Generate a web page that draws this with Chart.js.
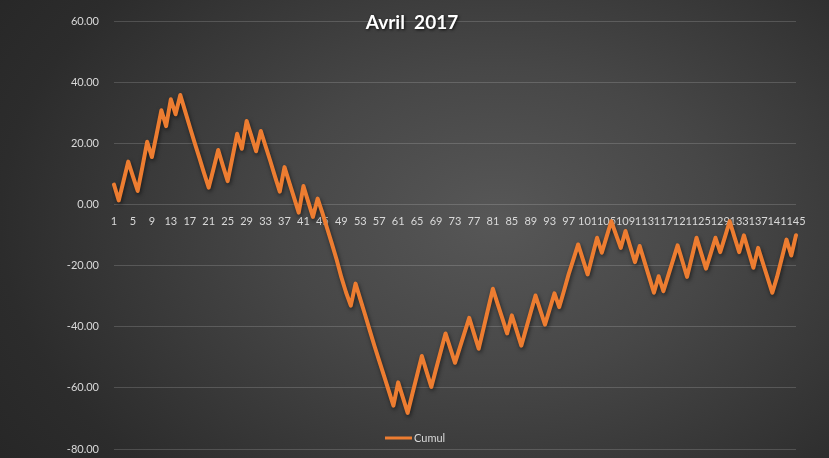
<!DOCTYPE html>
<html>
<head>
<meta charset="utf-8">
<script src="https://cdn.jsdelivr.net/npm/chart.js@4"></script>
<style>
  html, body { margin:0; padding:0; }
  body {
    width:829px; height:458px; overflow:hidden;
    background: radial-gradient(ellipse 75% 95% at 60% 48%, #575757 0%, #474747 35%, #2c2c2c 80%, #262626 100%);
  }
  #wrap { position:relative; width:829px; height:458px; }
</style>
</head>
<body>
<div id="wrap"><canvas id="c-cumul" width="829" height="458"></canvas></div>
<script>
// Chart data
const TITLE = 'Avril  2017';
const SERIES_NAME = 'Cumul';
const DAYS = Array.from({ length: 145 }, (_, i) => String(i + 1));
const Y_TICKS = [-80, -60, -40, -20, 0, 20, 40, 60];
const CUMUL = [
   6.5,   1.3,   7.6,  14.0,   9.2,   4.4,  12.3,  20.5,  15.5,  23.0,
  30.8,  25.6,  34.4,  29.5,  35.8,  30.6,  25.4,  20.3,  15.4,  10.3,
   5.5,  11.6,  17.8,  12.6,   7.6,  15.3,  23.1,  18.2,  27.3,  22.4,
  17.4,  24.0,  19.1,  14.2,   9.1,   4.2,  12.2,   7.2,   2.3,  -2.7,
   6.0,   0.9,  -4.1,   1.9,  -2.8,  -7.8, -12.8, -18.0, -23.8, -28.8,
 -33.1, -25.9, -31.0, -36.0, -41.2, -46.3, -51.2, -56.0, -60.9, -65.8,
 -58.2, -63.2, -68.2, -61.9, -55.8, -49.6, -54.7, -59.7, -53.8, -48.0,
 -42.2, -47.0, -51.8, -46.9, -42.0, -37.1, -42.2, -47.2, -40.7, -34.1,
 -27.6, -32.5, -37.3, -42.2, -36.3, -41.2, -46.2, -40.7, -35.2, -29.8,
 -34.6, -39.3, -34.2, -29.1, -33.6, -28.3, -22.8, -18.0, -13.1, -18.0,
 -22.9, -16.9, -10.9, -15.8, -10.6,  -5.5,  -9.9, -14.2,  -8.7, -13.8,
 -18.9, -13.6, -18.7, -23.8, -28.9, -23.5, -28.4, -23.4, -18.4, -13.4,
 -18.5, -23.7, -17.3, -10.9, -16.0, -21.0, -16.0, -10.9, -15.6, -10.6,
  -5.5, -10.6, -15.6, -10.1, -15.4, -20.7, -14.2, -19.1, -24.0, -28.9,
 -23.7, -17.6, -11.5, -16.7, -10.1
];

const ORANGE = '#ED7D31';
const TXT = '#d9d9d9';
const FONT = 'Lato, "Open Sans", sans-serif';

// line drop shadow
const shadowPlugin = {
  id: 'lineShadow',
  beforeDatasetDraw(chart) {
    const ctx = chart.ctx;
    ctx.save();
    ctx.shadowColor = 'rgba(0,0,0,0.55)';
    ctx.shadowBlur = 4;
    ctx.shadowOffsetX = 1;
    ctx.shadowOffsetY = 2;
  },
  afterDatasetDraw(chart) { chart.ctx.restore(); }
};

// title + legend drawn over the plot, like the Excel chart
const overlayPlugin = {
  id: 'overlay',
  afterDraw(chart) {
    const ctx = chart.ctx;
    ctx.save();
    ctx.font = 'bold 19px ' + FONT;
    ctx.textAlign = 'center';
    ctx.textBaseline = 'middle';
    ctx.shadowColor = 'rgba(0,0,0,0.8)';
    ctx.shadowBlur = 3;
    ctx.shadowOffsetX = 1;
    ctx.shadowOffsetY = 1;
    ctx.fillStyle = '#ffffff';
    ctx.fillText(TITLE, 412, 23);
    ctx.restore();

    ctx.save();
    ctx.strokeStyle = ORANGE;
    ctx.lineWidth = 3;
    ctx.beginPath(); ctx.moveTo(385, 438); ctx.lineTo(412, 438); ctx.stroke();
    ctx.font = '11px ' + FONT;
    ctx.fillStyle = TXT;
    ctx.textAlign = 'left';
    ctx.textBaseline = 'middle';
    ctx.fillText(SERIES_NAME, 414, 438);
    ctx.restore();
  }
};

new Chart(document.getElementById('c-cumul'), {
  type: 'line',
  data: {
    labels: DAYS,
    datasets: [{
      label: SERIES_NAME,
      data: CUMUL,
      borderColor: ORANGE,
      backgroundColor: ORANGE,
      borderWidth: 4,
      pointRadius: 0,
      tension: 0,
      borderJoinStyle: 'round',
      borderCapStyle: 'round'
    }]
  },
  options: {
    responsive: false, animation: false,
    layout: { padding: { left: 0, right: 33, top: 21, bottom: 9 } },
    plugins: { legend: { display: false }, title: { display: false }, tooltip: { enabled: false } },
    scales: {
      x: {
        position: { y: 0 },
        offset: false,
        afterFit: s => { s.height = 0; },
        grid: { display: false },
        border: { display: false },
        ticks: {
          autoSkip: false, maxRotation: 0, minRotation: 0, padding: 2,
          color: TXT, font: { family: FONT, size: 11 },
          callback: (v, i) => (i % 4 === 0 ? DAYS[i] : '')
        }
      },
      y: {
        min: -80, max: 60,
        afterFit: s => { s.width = 114; s.paddingTop = 0; s.paddingBottom = 0; },
        afterBuildTicks: s => { s.ticks = Y_TICKS.map(v => ({ value: v })); },
        grid: { color: 'rgba(255,255,255,0.16)', lineWidth: 1, drawTicks: false },
        border: { display: false },
        ticks: { padding: 15, color: TXT, font: { family: FONT, size: 11 }, callback: v => v.toFixed(2) }
      }
    }
  },
  plugins: [shadowPlugin, overlayPlugin]
});
</script>
</body>
</html>
